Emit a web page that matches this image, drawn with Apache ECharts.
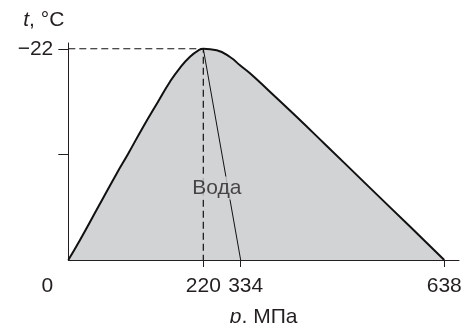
<!DOCTYPE html>
<html><head><meta charset="utf-8">
<script src="https://cdn.jsdelivr.net/npm/echarts@6/dist/echarts.min.js"></script>
<style>html,body{margin:0;padding:0;background:#fff}#c{width:467px;height:323px}</style>
</head><body><div id="c"></div>
<script>
// ---- data ----
const curvePressure = [0, 19.1, 48.9, 78.9, 97.8, 121.7, 146.7, 165.7, 182.0, 198.3, 211.8, 220, 260.9, 301.5, 332.0, 347.9, 375.3, 415.1, 459.9, 522.1, 586.8, 638];
const curveTemp     = [0, -2.08, -5.54, -9.02, -11.10, -13.83, -16.54, -18.57, -20.02, -21.17, -21.82, -22, -21.84, -21.14, -20.28, -19.45, -17.68, -15.07, -12.06, -7.85, -3.48, 0];
const guidePressure = [0, 220, 220];
const guideTemp     = [-22, -22, 0];
const linePressure  = [220, 334];
const lineTemp      = [-22, 0];
const xTickValues   = [0, 220, 334, 638];
const yTickValues   = [-22, -11];
const yLabelValues  = [-22];
const waterLabel    = 'Вода';
const waterPressure = 261;
const waterTemp     = -7.5;

// schematic (non-linear) pressure scale of the original figure
const warpIn  = [0, 220, 334, 638, 800];
const warpOut = [0, 229.1, 292.5, 638, 800];
function warp(p) {
  for (let i = 1; i < warpIn.length; i++) {
    if (p <= warpIn[i]) {
      const a = warpIn[i - 1], b = warpIn[i];
      return warpOut[i - 1] + (p - a) / (b - a) * (warpOut[i] - warpOut[i - 1]);
    }
  }
  return p;
}
const pairs = (xs, ys) => xs.map((x, i) => [warp(x), ys[i]]);

const FONT = '"Liberation Sans", Arial, sans-serif';
const INK = '#231f20';
const FILL = '#d1d3d4';
const FS = 21;

const xTickPos = xTickValues.map(warp);
const richX = {
  a: { fontSize: FS, fontFamily: FONT, color: INK, padding: [0, 42, 0, 0] },
  b: { fontSize: FS, fontFamily: FONT, color: INK },
  c: { fontSize: FS, fontFamily: FONT, color: INK, padding: [0, 0, 0, 10] }
};

const chart = echarts.init(document.getElementById('c'), null, { renderer: 'canvas' });
chart.setOption({
  animation: false,
  backgroundColor: '#fff',
  grid: { left: 68.3, right: 8, top: 43, bottom: 63, containLabel: false, outerBoundsMode: 'none' },
  xAxis: {
    type: 'value', min: 0, max: 663,
    splitLine: { show: false },
    axisLine: { show: true, onZero: false, lineStyle: { color: INK, width: 1 } },
    axisTick: { show: true, inside: false, length: 7, customValues: xTickPos.slice(1), lineStyle: { color: INK, width: 1 } },
    axisLabel: {
      show: true, margin: 16, customValues: xTickPos, color: INK, fontSize: FS, fontFamily: FONT,
      rich: richX,
      formatter: v => {
        const i = xTickPos.findIndex(t => Math.abs(t - v) < 0.01);
        if (i < 0) return '';
        const s = String(xTickValues[i]);
        if (i === 0) return '{a|' + s + '}';
        if (xTickValues[i] === 334) return '{c|' + s + '}';
        return '{b|' + s + '}';
      }
    },
    name: '{i|p}, МПа',
    nameLocation: 'middle', nameGap: 47,
    nameTextStyle: {
      color: INK, fontSize: FS, fontFamily: FONT,
      rich: { i: { fontStyle: 'italic', fontSize: FS, fontFamily: FONT, color: INK } }
    }
  },
  yAxis: {
    type: 'value', min: -22.6, max: 0, inverse: true,
    splitLine: { show: false },
    axisLine: { show: true, onZero: false, lineStyle: { color: INK, width: 1 } },
    axisTick: { show: true, inside: false, length: 10, customValues: yTickValues, lineStyle: { color: INK, width: 1 } },
    axisLabel: {
      show: true, margin: 15, customValues: yLabelValues, color: INK, fontSize: FS, fontFamily: FONT,
      padding: [0, 0, 8, 0],
      formatter: v => '\u2212' + Math.abs(v)
    },
    name: '{i|t}, °C',
    nameLocation: 'start', nameGap: 12,
    nameTextStyle: {
      color: INK, fontSize: FS, fontFamily: FONT, align: 'right', padding: [0, 4, 0, 0],
      rich: { i: { fontStyle: 'italic', fontSize: FS, fontFamily: FONT, color: INK } }
    }
  },
  series: [
    {
      type: 'line', data: pairs(curvePressure, curveTemp), smooth: 0.5,
      symbol: 'none', z: 2,
      lineStyle: { color: '#111', width: 2 },
      areaStyle: { color: FILL, opacity: 1 }
    },
    {
      type: 'line', data: pairs(guidePressure, guideTemp), symbol: 'none', z: 3,
      lineStyle: { color: '#111', width: 1.2, type: [7, 4] }
    },
    {
      type: 'line', data: pairs(linePressure, lineTemp), symbol: 'none', z: 3,
      lineStyle: { color: '#111', width: 1 }
    },
    {
      type: 'scatter', data: [[warp(waterPressure), waterTemp]], symbolSize: 0, z: 5,
      label: {
        show: true, position: 'inside', formatter: waterLabel,
        color: INK, fontSize: FS, fontFamily: FONT,
        backgroundColor: FILL, padding: [1, 1, 1, 1]
      }
    }
  ]
});
</script></body></html>
